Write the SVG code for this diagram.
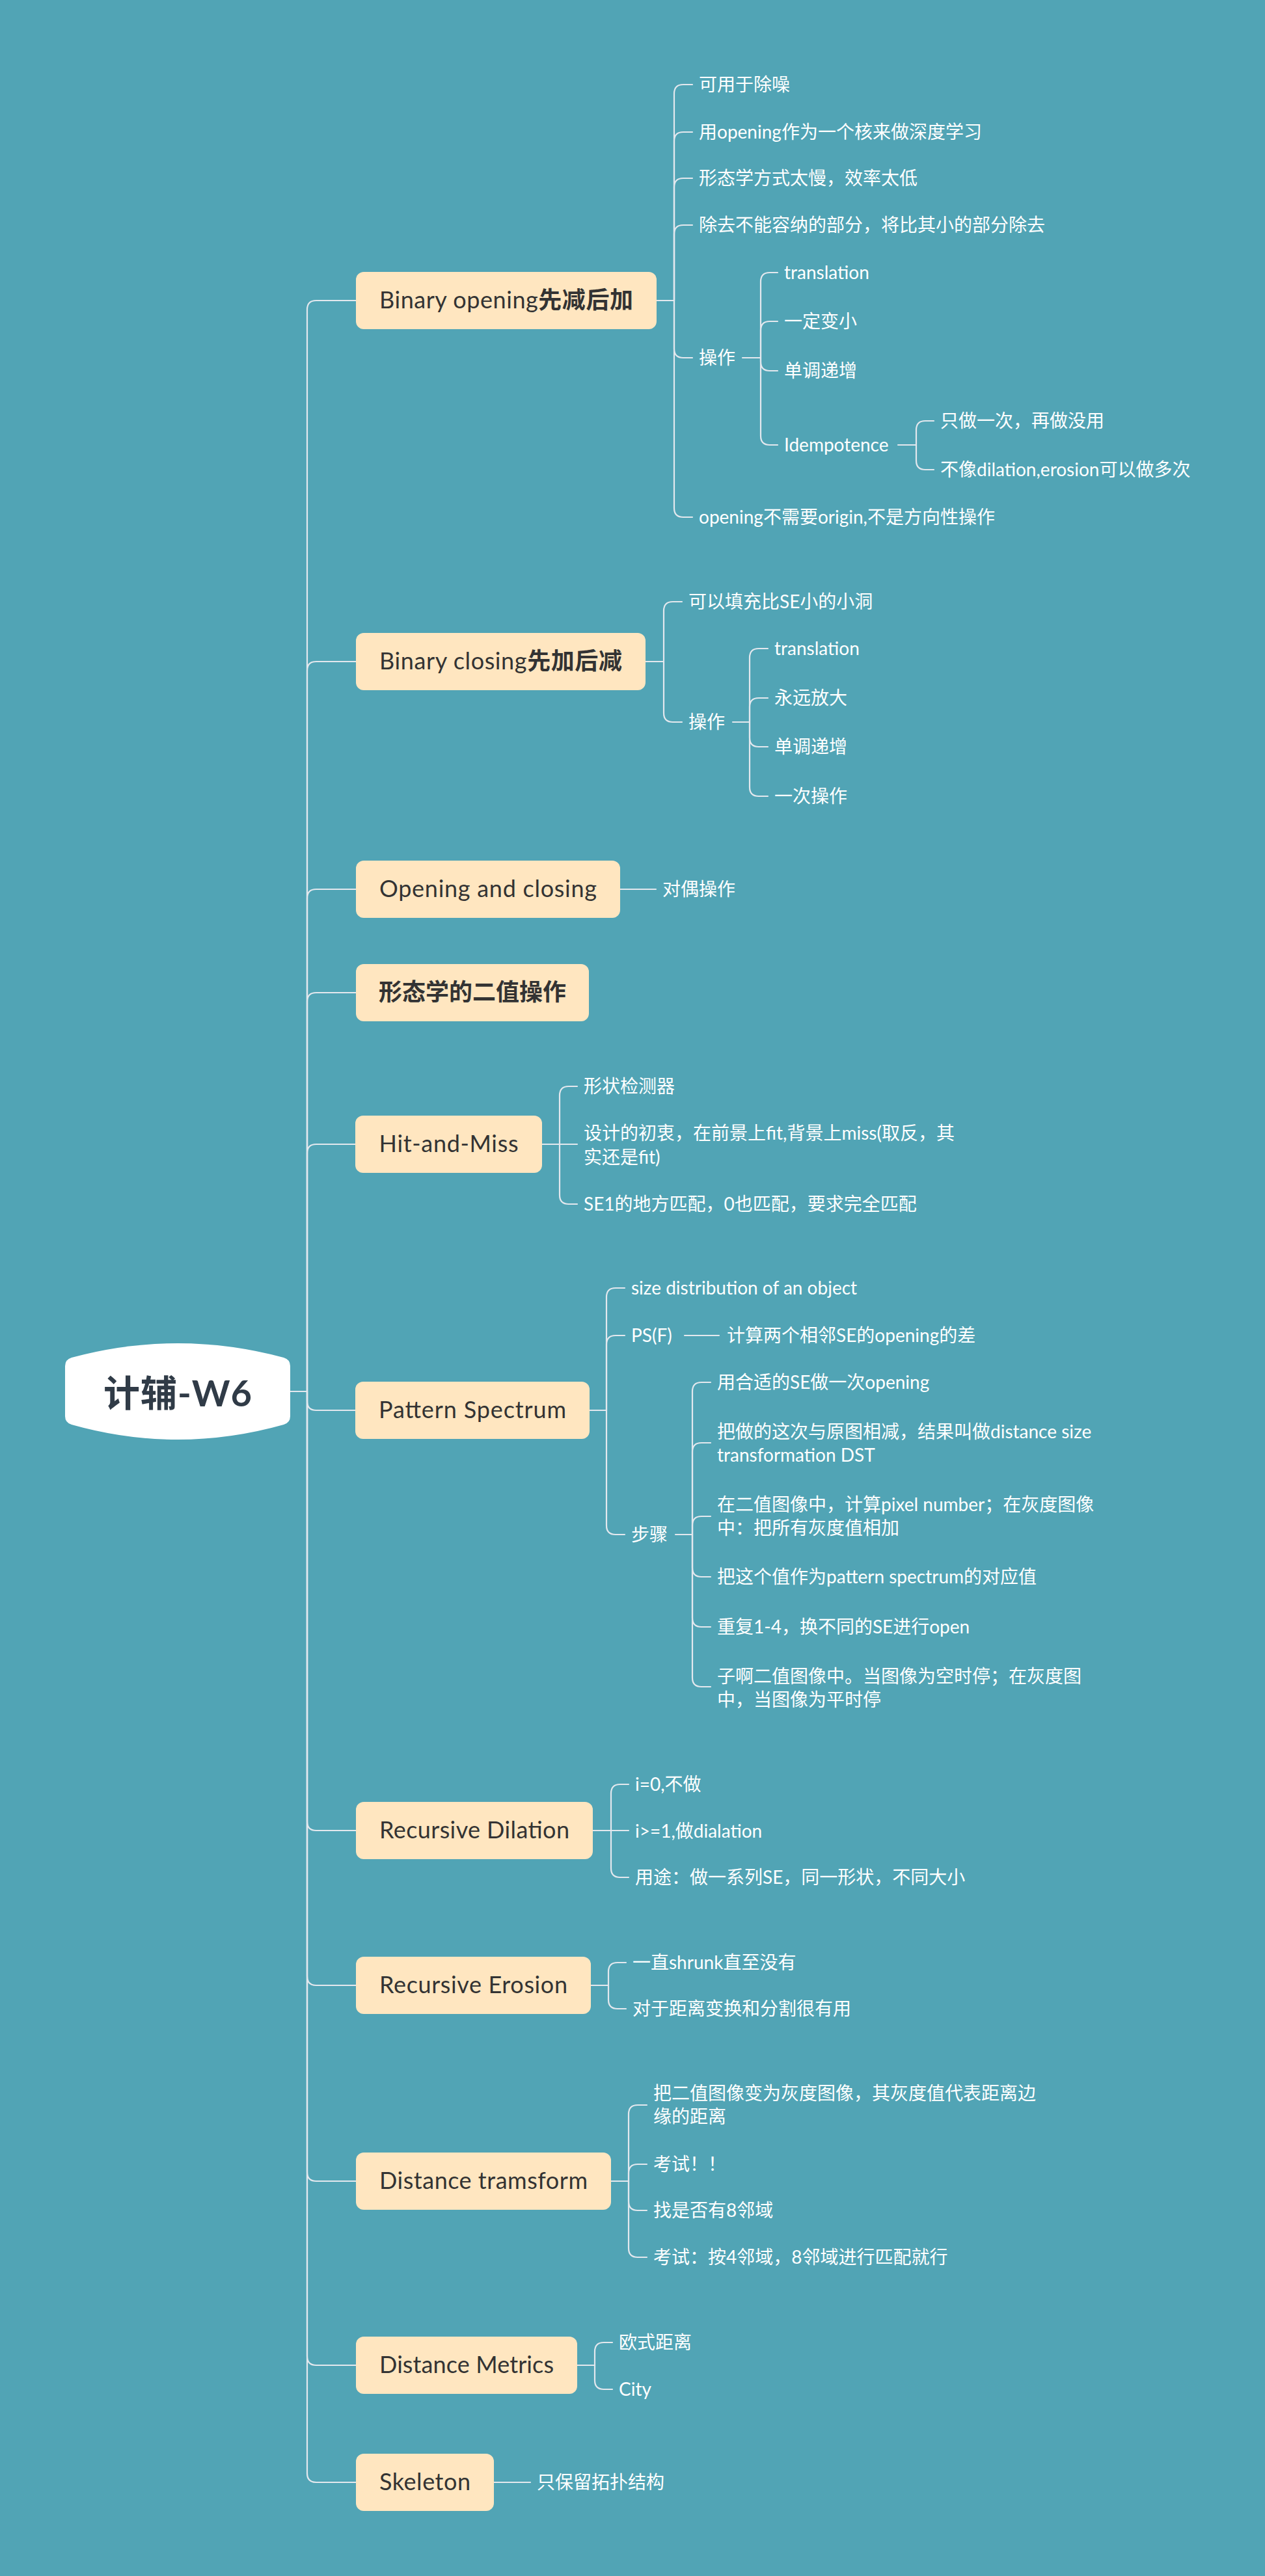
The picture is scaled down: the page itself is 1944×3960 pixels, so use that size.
<svg xmlns="http://www.w3.org/2000/svg" width="1944" height="3960" viewBox="0 0 1944 3960">
<style>
.ln{fill:none;stroke:#E3E8EE;stroke-width:2.2;stroke-linecap:round}
.box{fill:#FFE6C0}
.bt{font-family:Lato,"Noto Sans CJK SC",sans-serif;font-size:36px;fill:#333333;text-anchor:middle}
.ct{font-family:Lato,"Noto Sans CJK SC",sans-serif;font-size:28px;fill:#FFFFFF}
.b{font-weight:bold}
</style>
<rect width="1944" height="3960" fill="#51A4B5"/>
<g id="connectors">
<path class="ln" d="M446 2139 H472"/>
<path class="ln" d="M472 2139 V476 Q472 462 486 462 H547"/>
<path class="ln" d="M472 2139 V1031 Q472 1017 486 1017 H547"/>
<path class="ln" d="M472 2139 V1381 Q472 1367 486 1367 H547"/>
<path class="ln" d="M472 2139 V1540 Q472 1526 486 1526 H547"/>
<path class="ln" d="M472 2139 V1773 Q472 1759 486 1759 H547"/>
<path class="ln" d="M472 2139 V2154 Q472 2168 486 2168 H547"/>
<path class="ln" d="M472 2139 V2800 Q472 2814 486 2814 H547"/>
<path class="ln" d="M472 2139 V3038 Q472 3052 486 3052 H547"/>
<path class="ln" d="M472 2139 V3339 Q472 3353 486 3353 H547"/>
<path class="ln" d="M472 2139 V3622 Q472 3636 486 3636 H547"/>
<path class="ln" d="M472 2139 V3802 Q472 3816 486 3816 H547"/>
<path class="ln" d="M1009 462 H1036"/>
<path class="ln" d="M1036 462 V144 Q1036 130 1050 130 H1064"/>
<path class="ln" d="M1036 462 V217 Q1036 203 1050 203 H1064"/>
<path class="ln" d="M1036 462 V288 Q1036 274 1050 274 H1064"/>
<path class="ln" d="M1036 462 V360 Q1036 346 1050 346 H1064"/>
<path class="ln" d="M1036 462 V536 Q1036 550 1050 550 H1064"/>
<path class="ln" d="M1036 462 V781 Q1036 795 1050 795 H1064"/>
<path class="ln" d="M1141 550 H1169"/>
<path class="ln" d="M1169 550 V433 Q1169 419 1183 419 H1195"/>
<path class="ln" d="M1169 550 V508 Q1169 494 1183 494 H1195"/>
<path class="ln" d="M1169 550 V556 Q1169 570 1183 570 H1195"/>
<path class="ln" d="M1169 550 V670 Q1169 684 1183 684 H1195"/>
<path class="ln" d="M1380 684 H1408"/>
<path class="ln" d="M1408 684 V661 Q1408 647 1422 647 H1435"/>
<path class="ln" d="M1408 684 V708 Q1408 722 1422 722 H1435"/>
<path class="ln" d="M992 1017 H1020"/>
<path class="ln" d="M1020 1017 V939 Q1020 925 1034 925 H1048"/>
<path class="ln" d="M1020 1017 V1096 Q1020 1110 1034 1110 H1048"/>
<path class="ln" d="M1126 1110 H1152"/>
<path class="ln" d="M1152 1110 V1011 Q1152 997 1166 997 H1180"/>
<path class="ln" d="M1152 1110 V1087 Q1152 1073 1166 1073 H1180"/>
<path class="ln" d="M1152 1110 V1134 Q1152 1148 1166 1148 H1180"/>
<path class="ln" d="M1152 1110 V1210 Q1152 1224 1166 1224 H1180"/>
<path class="ln" d="M953 1367 H1008"/>
<path class="ln" d="M833 1759 H887"/>
<path class="ln" d="M860 1759 V1684 Q860 1670 874 1670 H887"/>
<path class="ln" d="M860 1759 V1837 Q860 1851 874 1851 H887"/>
<path class="ln" d="M906 2168 H932"/>
<path class="ln" d="M932 2168 V1994 Q932 1980 946 1980 H960"/>
<path class="ln" d="M932 2168 V2067 Q932 2053 946 2053 H960"/>
<path class="ln" d="M932 2168 V2345 Q932 2359 946 2359 H960"/>
<path class="ln" d="M1052 2053 H1105"/>
<path class="ln" d="M1038 2359 H1064"/>
<path class="ln" d="M1064 2359 V2139 Q1064 2125 1078 2125 H1092"/>
<path class="ln" d="M1064 2359 V2232 Q1064 2218 1078 2218 H1092"/>
<path class="ln" d="M1064 2359 V2345 Q1064 2331 1078 2331 H1092"/>
<path class="ln" d="M1064 2359 V2410 Q1064 2424 1078 2424 H1092"/>
<path class="ln" d="M1064 2359 V2487 Q1064 2501 1078 2501 H1092"/>
<path class="ln" d="M1064 2359 V2579 Q1064 2593 1078 2593 H1092"/>
<path class="ln" d="M911 2814 H966"/>
<path class="ln" d="M939 2814 V2757 Q939 2743 953 2743 H966"/>
<path class="ln" d="M939 2814 V2872 Q939 2886 953 2886 H966"/>
<path class="ln" d="M908 3052 H935"/>
<path class="ln" d="M935 3052 V3031 Q935 3017 949 3017 H962"/>
<path class="ln" d="M935 3052 V3074 Q935 3088 949 3088 H962"/>
<path class="ln" d="M939 3353 H966"/>
<path class="ln" d="M966 3353 V3250 Q966 3236 980 3236 H994"/>
<path class="ln" d="M966 3353 V3341 Q966 3327 980 3327 H994"/>
<path class="ln" d="M966 3353 V3384 Q966 3398 980 3398 H994"/>
<path class="ln" d="M966 3353 V3456 Q966 3470 980 3470 H994"/>
<path class="ln" d="M887 3636 H914"/>
<path class="ln" d="M914 3636 V3615 Q914 3601 928 3601 H941"/>
<path class="ln" d="M914 3636 V3659 Q914 3673 928 3673 H941"/>
<path class="ln" d="M759 3816 H815"/>
</g>
<g id="root">
<path d="M100 2100 Q100 2090 110 2087 Q273 2043 436 2087 Q446 2090 446 2100 V2177 Q446 2187 436 2190 Q273 2236 110 2190 Q100 2187 100 2177 Z" fill="#FFFFFF"/>
<text x="273" y="2162" font-family="Lato,'Noto Sans CJK SC',sans-serif" font-size="56" font-weight="bold" fill="#303B47" text-anchor="middle" textLength="228">计辅-W6</text>
</g>
<g id="n-binary-opening">
<rect class="box" x="547" y="418" width="462" height="88" rx="12"/>
<text class="bt" x="778" y="474" textLength="390">Binary opening<tspan class="b">先减后加</tspan></text>
</g>
<g id="n-bo-1"><text class="ct" x="1074" y="140">可用于除噪</text></g>
<g id="n-bo-2"><text class="ct" x="1074" y="213">用opening作为一个核来做深度学习</text></g>
<g id="n-bo-3"><text class="ct" x="1074" y="284">形态学方式太慢，效率太低</text></g>
<g id="n-bo-4"><text class="ct" x="1074" y="356">除去不能容纳的部分，将比其小的部分除去</text></g>
<g id="n-bo-op"><text class="ct" x="1074" y="560">操作</text></g>
<g id="n-bo-op-1"><text class="ct" x="1205" y="429">translation</text></g>
<g id="n-bo-op-2"><text class="ct" x="1205" y="504">一定变小</text></g>
<g id="n-bo-op-3"><text class="ct" x="1205" y="580">单调递增</text></g>
<g id="n-bo-op-4"><text class="ct" x="1205" y="694">Idempotence</text></g>
<g id="n-bo-id-1"><text class="ct" x="1445" y="657">只做一次，再做没用</text></g>
<g id="n-bo-id-2"><text class="ct" x="1445" y="732">不像dilation,erosion可以做多次</text></g>
<g id="n-bo-5"><text class="ct" x="1074" y="805">opening不需要origin,不是方向性操作</text></g>
<g id="n-binary-closing">
<rect class="box" x="547" y="973" width="445" height="88" rx="12"/>
<text class="bt" x="769.5" y="1029" textLength="373">Binary closing<tspan class="b">先加后减</tspan></text>
</g>
<g id="n-bc-1"><text class="ct" x="1058" y="935">可以填充比SE小的小洞</text></g>
<g id="n-bc-op"><text class="ct" x="1058" y="1120">操作</text></g>
<g id="n-bc-op-1"><text class="ct" x="1190" y="1007">translation</text></g>
<g id="n-bc-op-2"><text class="ct" x="1190" y="1083">永远放大</text></g>
<g id="n-bc-op-3"><text class="ct" x="1190" y="1158">单调递增</text></g>
<g id="n-bc-op-4"><text class="ct" x="1190" y="1234">一次操作</text></g>
<g id="n-open-close">
<rect class="box" x="547" y="1323" width="406" height="88" rx="12"/>
<text class="bt" x="750" y="1379" textLength="334">Opening and closing</text>
</g>
<g id="n-oc-1"><text class="ct" x="1018" y="1377">对偶操作</text></g>
<g id="n-binary-ops">
<rect class="box" x="547" y="1482" width="358" height="88" rx="12"/>
<text class="bt b" x="726" y="1538">形态学的二值操作</text>
</g>
<g id="n-hit-miss">
<rect class="box" x="546" y="1715" width="287" height="88" rx="12"/>
<text class="bt" x="689.5" y="1771" textLength="214">Hit-and-Miss</text>
</g>
<g id="n-hm-1"><text class="ct" x="897" y="1680">形状检测器</text></g>
<g id="n-hm-2"><text class="ct" x="897" y="1752">设计的初衷，在前景上fit,背景上miss(取反，其</text><text class="ct" x="897" y="1789">实还是fit)</text></g>
<g id="n-hm-3"><text class="ct" x="897" y="1861">SE1的地方匹配，0也匹配，要求完全匹配</text></g>
<g id="n-pattern-spectrum">
<rect class="box" x="546" y="2124" width="360" height="88" rx="12"/>
<text class="bt" x="726" y="2180" textLength="288">Pattern Spectrum</text>
</g>
<g id="n-ps-1"><text class="ct" x="970" y="1990">size distribution of an object</text></g>
<g id="n-ps-2"><text class="ct" x="970" y="2063">PS(F)</text></g>
<g id="n-ps-2-1"><text class="ct" x="1117" y="2063">计算两个相邻SE的opening的差</text></g>
<g id="n-ps-3"><text class="ct" x="970" y="2369">步骤</text></g>
<g id="n-st-1"><text class="ct" x="1102" y="2135">用合适的SE做一次opening</text></g>
<g id="n-st-2"><text class="ct" x="1102" y="2211">把做的这次与原图相减，结果叫做distance size</text><text class="ct" x="1102" y="2247">transformation DST</text></g>
<g id="n-st-3"><text class="ct" x="1102" y="2323">在二值图像中，计算pixel number；在灰度图像</text><text class="ct" x="1102" y="2359">中：把所有灰度值相加</text></g>
<g id="n-st-4"><text class="ct" x="1102" y="2434">把这个值作为pattern spectrum的对应值</text></g>
<g id="n-st-5"><text class="ct" x="1102" y="2511">重复1-4，换不同的SE进行open</text></g>
<g id="n-st-6"><text class="ct" x="1102" y="2587">子啊二值图像中。当图像为空时停；在灰度图</text><text class="ct" x="1102" y="2623">中，当图像为平时停</text></g>
<g id="n-rec-dilation">
<rect class="box" x="547" y="2770" width="364" height="88" rx="12"/>
<text class="bt" x="729" y="2826" textLength="292">Recursive Dilation</text>
</g>
<g id="n-rd-1"><text class="ct" x="976" y="2753">i=0,不做</text></g>
<g id="n-rd-2"><text class="ct" x="976" y="2825">i&gt;=1,做dialation</text></g>
<g id="n-rd-3"><text class="ct" x="976" y="2896">用途：做一系列SE，同一形状，不同大小</text></g>
<g id="n-rec-erosion">
<rect class="box" x="547" y="3008" width="361" height="88" rx="12"/>
<text class="bt" x="727.5" y="3064" textLength="289">Recursive Erosion</text>
</g>
<g id="n-re-1"><text class="ct" x="972" y="3027">一直shrunk直至没有</text></g>
<g id="n-re-2"><text class="ct" x="972" y="3098">对于距离变换和分割很有用</text></g>
<g id="n-dist-transform">
<rect class="box" x="547" y="3309" width="392" height="88" rx="12"/>
<text class="bt" x="743" y="3365" textLength="320">Distance tramsform</text>
</g>
<g id="n-dt-1"><text class="ct" x="1004" y="3228">把二值图像变为灰度图像，其灰度值代表距离边</text><text class="ct" x="1004" y="3264">缘的距离</text></g>
<g id="n-dt-2"><text class="ct" x="1004" y="3337">考试！！</text></g>
<g id="n-dt-3"><text class="ct" x="1004" y="3408">找是否有8邻域</text></g>
<g id="n-dt-4"><text class="ct" x="1004" y="3480">考试：按4邻域，8邻域进行匹配就行</text></g>
<g id="n-dist-metrics">
<rect class="box" x="547" y="3592" width="340" height="88" rx="12"/>
<text class="bt" x="717" y="3648" textLength="268">Distance Metrics</text>
</g>
<g id="n-dm-1"><text class="ct" x="951" y="3611">欧式距离</text></g>
<g id="n-dm-2"><text class="ct" x="951" y="3683">City</text></g>
<g id="n-skeleton">
<rect class="box" x="547" y="3772" width="212" height="88" rx="12"/>
<text class="bt" x="653" y="3828" textLength="140">Skeleton</text>
</g>
<g id="n-sk-1"><text class="ct" x="825" y="3826">只保留拓扑结构</text></g>
</svg>
